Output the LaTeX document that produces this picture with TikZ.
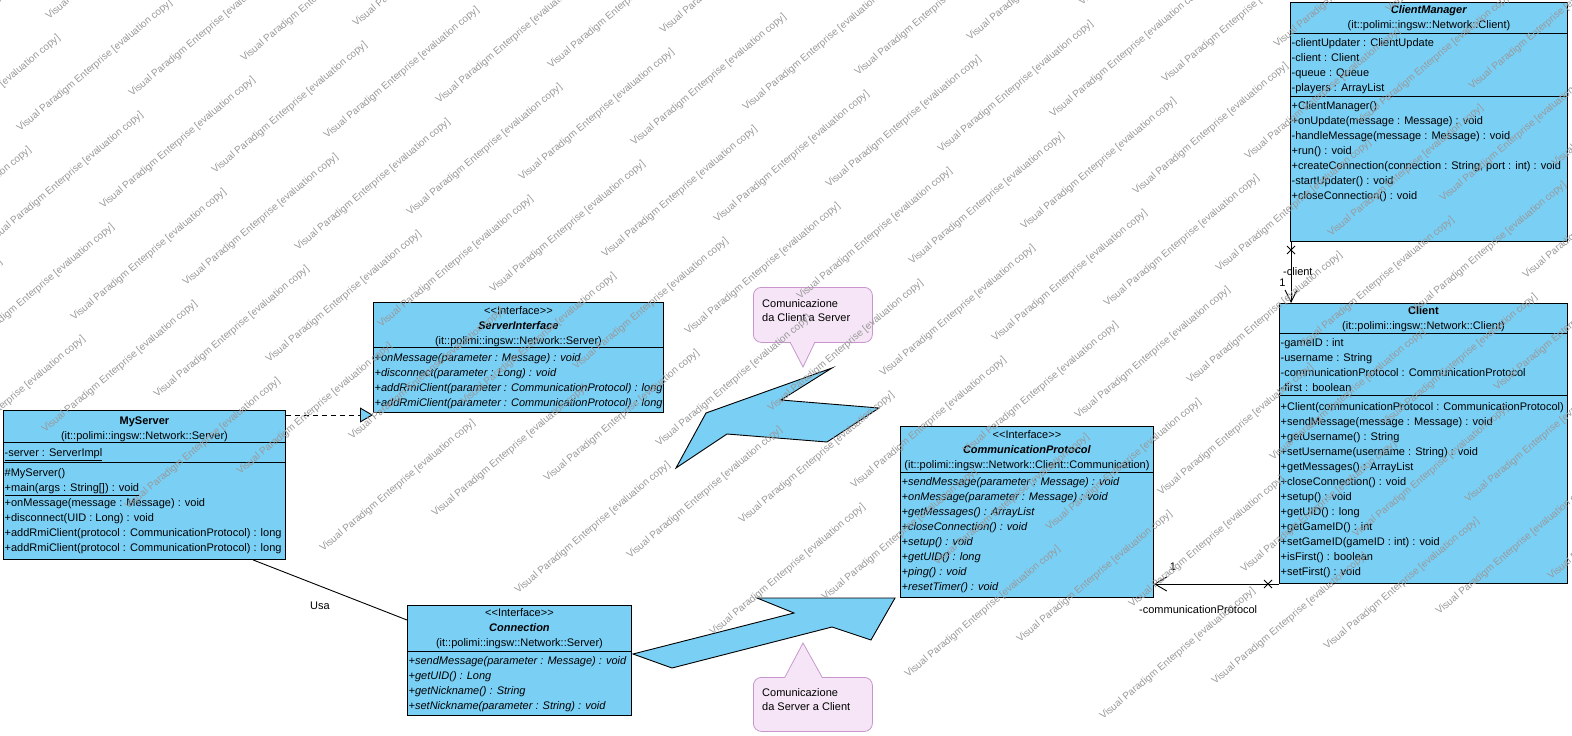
\documentclass[tikz,border=0pt]{standalone}
\usepackage{fontspec}
\setmainfont{Liberation Sans}
\usetikzlibrary{shapes,arrows.meta}
\definecolor{classblue}{RGB}{122,207,245}
\definecolor{notefill}{RGB}{245,229,246}
\definecolor{noteline}{RGB}{200,150,205}
\tikzstyle{classbox} = [rectangle, draw=black, fill=classblue, line width=0.9pt, inner sep=0pt, anchor=north west]
\tikzstyle{classhead} = [align=center, anchor=north, inner sep=0pt, font=\fontsize{11}{15}\selectfont]
\tikzstyle{members} = [align=left, anchor=north west, inner sep=0pt, xshift=1.5pt, font=\fontsize{11}{15}\selectfont]
\tikzstyle{absmembers} = [members, font=\fontsize{11}{15}\selectfont\itshape]
\tikzstyle{sepline} = [line width=0.9pt]
\tikzstyle{assoc} = [line width=0.9pt]
\tikzstyle{realize} = [line width=0.9pt, dash pattern=on 5pt off 4pt, -{Triangle[length=13pt,width=15pt,fill=classblue]}]
\tikzstyle{rolelabel} = [inner sep=0pt, font=\fontsize{11}{15}\selectfont]
\tikzstyle{notebox} = [rectangle, rounded corners=8pt, draw=noteline, fill=notefill, line width=0.8pt, inner sep=0pt, anchor=north west]
\tikzstyle{notetext} = [align=left, anchor=north west, inner sep=0pt, font=\fontsize{11}{14}\selectfont]
\tikzstyle{zigzag} = [draw=black, fill=classblue, line width=0.9pt, line join=miter]
\tikzstyle{wmark} = [text=black!40, font=\fontsize{10}{10}\selectfont, rotate=40, anchor=base west, inner sep=0pt]

\begin{document}
\begin{tikzpicture}[x=1pt, y=-1pt]
\useasboundingbox (0,0) rectangle (1572,736);
\fill[white] (0,0) rectangle (1572,736);

% notes and communication arrows
\node [notebox, minimum width=119pt, minimum height=55pt] (noteup) at (753,287) {};
\fill [notefill] (790,341) -- (803,367) -- (815,341) -- cycle;
\draw [noteline, line width=0.8pt] (790,342) -- (803,367) -- (815,342);
\node [notetext] (noteuptext) at (762,297.2) {\strut Comunicazione\\da Client a Server};
\filldraw [zigzag] (676,468) -- (706,413) -- (832,368) -- (781,400) -- (879,408) -- (827,442) -- (727,434) -- cycle;

\node [notebox, minimum width=119pt, minimum height=54pt] (notedown) at (753,677) {};
\fill [notefill] (785,678) -- (803,643) -- (822,678) -- cycle;
\draw [noteline, line width=0.8pt] (785,677) -- (803,643) -- (822,677);
\node [notetext] (notedowntext) at (762,686) {\strut Comunicazione\\da Server a Client};
\filldraw [zigzag] (633,654) -- (794,613) -- (757,598) -- (895,598) -- (871,640) -- (832,627) -- (672,668) -- cycle;

% ClientManager
\node [classbox, minimum width=277pt, minimum height=239pt] (clientmanager) at (1290,2) {};
\node [classhead] (clientmanagerhead) at (clientmanager.north |- 0,2.5) {\strut\textbf{\textit{ClientManager}}\\(it::polimi::ingsw::Network::Client)};
\draw [sepline] (clientmanager.west |- 0,33) -- (clientmanager.east |- 0,33);
\node [members] (clientmanagerattr) at (clientmanager.west |- 0,35.5) {\strut-clientUpdater : ClientUpdate\\-client : Client\\-queue : Queue\\-players : ArrayList};
\draw [sepline] (clientmanager.west |- 0,96) -- (clientmanager.east |- 0,96);
\node [members] (clientmanagerops) at (clientmanager.west |- 0,98.5) {\strut+ClientManager()\\+onUpdate(message : Message) : void\\-handleMessage(message : Message) : void\\+run() : void\\+createConnection(connection : String, port : int) : void\\-startUpdater() : void\\+closeConnection() : void};

% Client
\node [classbox, minimum width=288pt, minimum height=280pt] (client) at (1279,303) {};
\node [classhead] (clienthead) at (client.north |- 0,303.5) {\strut\textbf{Client}\\(it::polimi::ingsw::Network::Client)};
\draw [sepline] (client.west |- 0,333) -- (client.east |- 0,333);
\node [members] (clientattr) at (client.west |- 0,335.5) {\strut-gameID : int\\-username : String\\-communicationProtocol : CommunicationProtocol\\-first : boolean};
\draw [sepline] (client.west |- 0,395) -- (client.east |- 0,395);
\node [members] (clientops) at (client.west |- 0,399.5) {\strut+Client(communicationProtocol : CommunicationProtocol)\\+sendMessage(message : Message) : void\\+getUsername() : String\\+setUsername(username : String) : void\\+getMessages() : ArrayList\\+closeConnection() : void\\+setup() : void\\+getUID() : long\\+getGameID() : int\\+setGameID(gameID : int) : void\\+isFirst() : boolean\\+setFirst() : void};

% MyServer
\node [classbox, minimum width=282pt, minimum height=149pt] (myserver) at (3,410) {};
\node [classhead] (myserverhead) at (myserver.north |- 0,413.5) {\strut\textbf{MyServer}\\(it::polimi::ingsw::Network::Server)};
\draw [sepline] (myserver.west |- 0,442) -- (myserver.east |- 0,442);
\node [members] (myserverattr) at (myserver.west |- 0,445.5) {\strut\underline{-server : ServerImpl}};
\draw [sepline] (myserver.west |- 0,462) -- (myserver.east |- 0,462);
\node [members] (myserverops) at (myserver.west |- 0,465.5) {\strut\#MyServer()\\\underline{+main(args : String[]) : void}\\+onMessage(message : Message) : void\\+disconnect(UID : Long) : void\\+addRmiClient(protocol : CommunicationProtocol) : long\\+addRmiClient(protocol : CommunicationProtocol) : long};

% ServerInterface
\node [classbox, minimum width=290pt, minimum height=110pt] (serverinterface) at (373,302) {};
\node [classhead] (serverinterfacehead) at (serverinterface.north |- 0,303.5) {\strut<{}<Interface>{}>\\\textbf{\textit{ServerInterface}}\\(it::polimi::ingsw::Network::Server)};
\draw [sepline] (serverinterface.west |- 0,347) -- (serverinterface.east |- 0,347);
\node [absmembers] (serverinterfaceops) at (serverinterface.west |- 0,350.5) {\strut+onMessage(parameter : Message) : void\\+disconnect(parameter : Long) : void\\+addRmiClient(parameter : CommunicationProtocol) : long\\+addRmiClient(parameter : CommunicationProtocol) : long};

% CommunicationProtocol
\node [classbox, minimum width=253pt, minimum height=171pt] (commprotocol) at (900,426) {};
\node [classhead] (commprotocolhead) at (commprotocol.north |- 0,427.5) {\strut<{}<Interface>{}>\\\textbf{\textit{CommunicationProtocol}}\\(it::polimi::ingsw::Network::Client::Communication)};
\draw [sepline] (commprotocol.west |- 0,472) -- (commprotocol.east |- 0,472);
\node [absmembers] (commprotocolops) at (commprotocol.west |- 0,474.5) {\strut+sendMessage(parameter : Message) : void\\+onMessage(parameter : Message) : void\\+getMessages() : ArrayList\\+closeConnection() : void\\+setup() : void\\+getUID() : long\\+ping() : void\\+resetTimer() : void};

% Connection
\node [classbox, minimum width=224pt, minimum height=110pt] (connection) at (407,605) {};
\node [classhead] (connectionhead) at (connection.north |- 0,605.5) {\strut<{}<Interface>{}>\\\textbf{\textit{Connection}}\\(it::polimi::ingsw::Network::Server)};
\draw [sepline] (connection.west |- 0,651) -- (connection.east |- 0,651);
\node [absmembers] (connectionops) at (connection.west |- 0,653.5) {\strut+sendMessage(parameter : Message) : void\\+getUID() : Long\\+getNickname() : String\\+setNickname(parameter : String) : void};

% relations
\draw [realize] (myserver.east |- 0,415) -- (serverinterface.west |- 0,415);
\draw [assoc] (253,0 |- myserver.south) -- (connection.west |- 0,620);
\node [rolelabel] (usa) at (320,606) {Usa};

\draw [assoc, -{Straight Barb[length=12pt,width=12pt]}] (1291,0 |- clientmanager.south) -- (1291,0 |- client.north);
\coordinate (clientcross) at (1291,250);
\draw [assoc] (clientcross) +(-4,-4) -- +(4,4) +(-4,4) -- +(4,-4);
\node [rolelabel, anchor=west] (clientrole) at (1283,272) {-client};
\node [rolelabel] (clientmult) at (1282.5,283) {1};

\draw [assoc, {Straight Barb[length=12pt,width=14pt]}-] (commprotocol.east |- 0,584) -- (client.west |- 0,584);
\coordinate (protocolcross) at (1268,584);
\draw [assoc] (protocolcross) +(-4,-4) -- +(4,4) +(-4,4) -- +(4,-4);
\node [rolelabel] (protocolmult) at (1173,567) {1};
\node [rolelabel, anchor=west] (protocolrole) at (1139,610) {-communicationProtocol};

% watermark
\begin{scope}
\clip (0,0) rectangle (1572,736);
\foreach \i in {-6,...,16} {
  \foreach \j in {-3,...,9} {
    \node [wmark] (wm\i\j) at ({20+112*\i+195*\j},{132-35*\i+42*\j}) {Visual Paradigm Enterprise [evaluation copy]};
  }
}
\end{scope}

\end{tikzpicture}
\end{document}
